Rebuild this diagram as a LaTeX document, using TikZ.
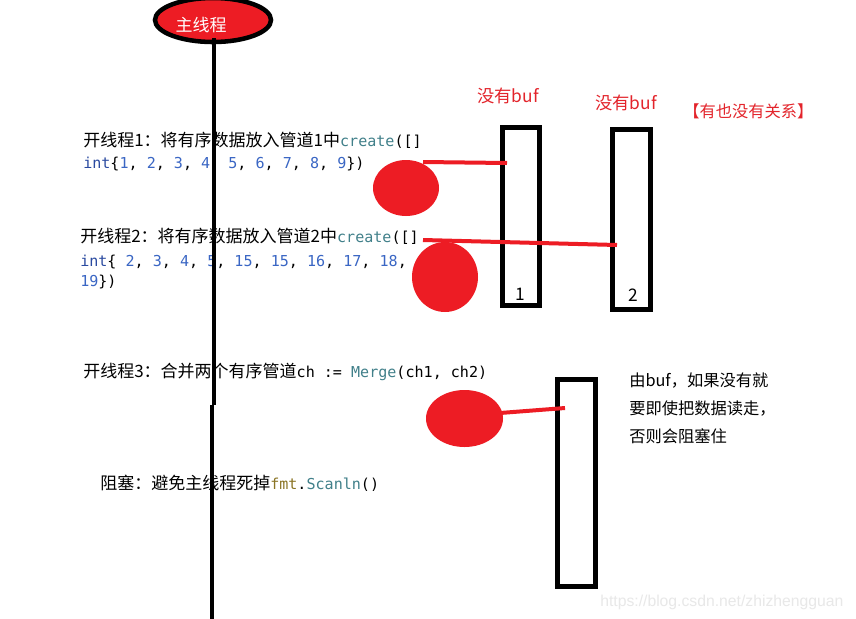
\documentclass[tikz,border=0pt]{standalone}
\usepackage{fontspec}
\setmainfont{Noto Sans CJK SC}
\setmonofont{DejaVu Sans Mono}
\newfontfamily\wmfont{Liberation Sans}
\usetikzlibrary{shapes.geometric}
\definecolor{pred}{HTML}{ED1C24}
\definecolor{tred}{HTML}{E3242B}
\definecolor{kwc}{HTML}{2A4AA0}
\definecolor{numc}{HTML}{3A66C4}
\definecolor{tyc}{HTML}{41808A}
\definecolor{pkgc}{HTML}{8A7424}
\newcommand{\cjkfs}{\fontsize{12.75}{15}\selectfont}
\newcommand{\rfs}{\fontsize{12.2}{15}\selectfont}
\newcommand{\codefs}{\ttfamily\fontsize{11.3}{14}\selectfont}
\newcommand{\kwd}[1]{\textcolor{kwc}{#1}}
\newcommand{\nm}[1]{\textcolor{numc}{#1}}
\newcommand{\ty}[1]{\textcolor{tyc}{#1}}
\newcommand{\pk}[1]{\textcolor{pkgc}{#1}}
\tikzset{
  txt/.style={anchor=base west, inner sep=0pt, font=\cjkfs, text=black},
  redtxt/.style={anchor=base west, inner sep=0pt, font=\cjkfs, text=tred},
  pipebox/.style={draw=black, line width=3.6pt, fill=white, inner sep=0pt, rectangle},
  blob/.style={ellipse, fill=pred, draw=none, inner sep=0pt},
  redline/.style={draw=pred, line width=3pt},
  mainline/.style={draw=black, line width=3.6pt},
}
\begin{document}
\begin{tikzpicture}[x=0.75pt,y=-0.75pt]
\useasboundingbox (0,0) rectangle (856,618);
\fill[white] (0,0) rectangle (856,618);

% main thread ellipse
\node[ellipse, fill=pred, draw=black, line width=3.4pt, minimum width=87pt, minimum height=33pt, inner sep=0pt] (main) at (213,20) {};
\node[anchor=base, inner sep=0pt, font=\cjkfs, text=white] (mainlbl) at (201,31) {主线程};

% main vertical line
\coordinate (m0) at (214,38);
\coordinate (m1) at (214,405);
\coordinate (m2) at (212,405);
\coordinate (m3) at (212,620);

% pipes
\node[pipebox, minimum width=27.75pt, minimum height=133.5pt] (r1) at (521,216.5) {};
\node[pipebox, minimum width=28.5pt, minimum height=135pt] (r2) at (631.5,219.5) {};
\node[pipebox, minimum width=28.5pt, minimum height=155.25pt] (r3) at (576.5,483) {};
\node[anchor=base, inner sep=0pt, font=\fontsize{13}{15}\selectfont] (n1) at (520,300) {1};
\node[anchor=base, inner sep=0pt, font=\fontsize{13}{15}\selectfont] (n2) at (633,301) {2};

% red blobs
\node[blob, minimum width=49.5pt, minimum height=42pt] (c1) at (406,188) {};
\node[blob, minimum width=49.5pt, minimum height=52.5pt] (c2) at (445,277) {};
\node[blob, minimum width=57.75pt, minimum height=42.75pt] (c3) at (464.5,418.5) {};

% red connectors
\coordinate (a1) at (423,162);
\coordinate (b1) at (507,163);
\coordinate (a2) at (423,240);
\coordinate (b2) at (617,245);
\coordinate (a3) at (500,413);
\coordinate (b3) at (565,408);
\draw[redline] (a1) -- (b1);
\draw[redline] (a2) -- (b2);
\draw[redline] (a3) -- (b3);

% labels above pipes
\node[redtxt, font=\fontsize{13}{15}\selectfont] (nb1) at (477,102) {没有buf};
\node[redtxt, font=\fontsize{13}{15}\selectfont] (nb2) at (595,109) {没有buf};
\node[redtxt, font=\fontsize{12.2}{15}\selectfont] (rel) at (683,117) {【有也没有关系】};

% thread texts
\node[txt] (t1a) at (83,146) {开线程1：将有序数据放入管道1中{\codefs\ty{create}([]}};
\node[txt, font=\codefs] (t1b) at (83,168) {\kwd{int}\{\nm{1}, \nm{2}, \nm{3}, \nm{4}, \nm{5}, \nm{6}, \nm{7}, \nm{8}, \nm{9}\})};

\node[txt] (t2a) at (80,242) {开线程2：将有序数据放入管道2中{\codefs\ty{create}([]}};
\node[txt, font=\codefs] (t2b) at (80,266) {\kwd{int}\{ \nm{2}, \nm{3}, \nm{4}, \nm{5}, \nm{15}, \nm{15}, \nm{16}, \nm{17}, \nm{18},};
\node[txt, font=\codefs] (t2c) at (80,286) {\nm{19}\})};

\node[txt] (t3) at (83,377) {开线程3：合并两个有序管道{\codefs ch := \ty{Merge}(ch1, ch2)}};

\node[txt] (t4) at (100,489) {阻塞：避免主线程死掉{\codefs\pk{fmt}.\ty{Scanln}()}};

% right note
\node[txt, font=\rfs] (r1t) at (629,386) {由buf，如果没有就};
\node[txt, font=\rfs] (r2t) at (629,414) {要即使把数据读走，};
\node[txt, font=\rfs] (r3t) at (629,442) {否则会阻塞住};

% main line drawn over texts
\draw[mainline] (m0) -- (m1);
\draw[mainline] (m2) -- (m3);

% watermark
\node[anchor=base west, inner sep=0pt, font=\wmfont\fontsize{11.8}{13}\selectfont, text=black!9] (wm) at (600,606) {https://blog.csdn.net/zhizhengguan};
\end{tikzpicture}
\end{document}
